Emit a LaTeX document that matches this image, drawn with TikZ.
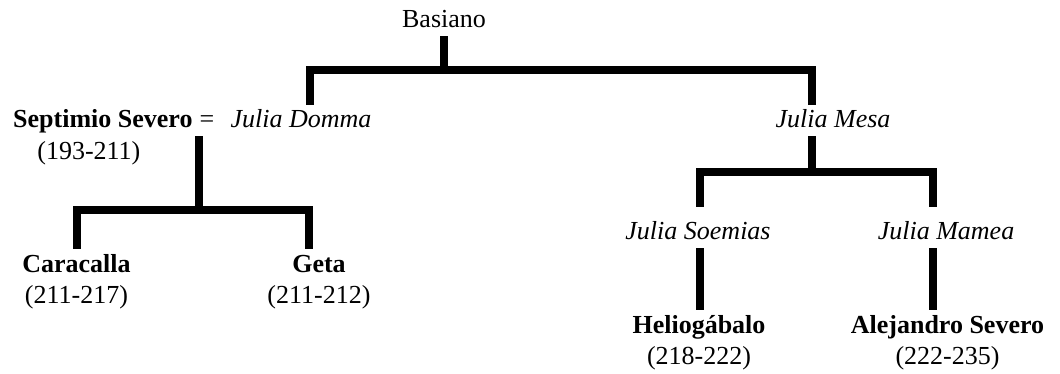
\documentclass[tikz,border=0pt]{standalone}
\usepackage{fontspec}
\setmainfont{Liberation Serif}
\usepackage{tikz}
\usetikzlibrary{positioning}
\tikzset{
branch/.style={line width=8pt}, % the thick family lines
person/.style={text height=20pt, text depth=5pt, inner sep=3pt}, % every name on a common baseline
emperor/.style={person, font=\bfseries}, % emperors in bold
lady/.style={person, font=\itshape}, % the Julias in italics
years/.style={person}, % years of reign
}
\begin{document}
\fontsize{26}{31}\selectfont
\begin{tikzpicture}[x=1pt, y=-1pt]
		\useasboundingbox (0,0) rectangle (1060,374);
		\node[person, anchor=base] (basiano) at (444,28) {Basiano};
		\node[emperor, anchor=base west] (severo) at (10,128) {Septimio Severo};
		\node[person, anchor=base] (eq) at (207,128) {=};
		\node[years, below=0pt of severo, xshift=-14pt] (severoyears) {(193-211)};
		\node[lady, anchor=base] (domma) at (301,128) {Julia Domma};
		\node[lady, anchor=base] (mesa) at (833,128) {Julia Mesa};
		\node[emperor, anchor=base] (caracalla) at (76.5,272) {Caracalla};
		\node[years, below=0pt of caracalla] (caracallayears) {(211-217)};
		\node[emperor, anchor=base] (geta) at (319,272) {Geta};
		\node[years, below=0pt of geta] (getayears) {(211-212)};
		\node[lady, anchor=base] (soemias) at (698,240) {Julia Soemias};
		\node[lady, anchor=base] (mamea) at (946,240) {Julia Mamea};
		\node[emperor, anchor=base] (heliogabalo) at (699,333) {Heliogábalo};
		\node[years, below=0pt of heliogabalo] (heliogabaloyears) {(218-222)};
		\node[emperor, anchor=base] (alejandro) at (947.5,333) {Alejandro Severo};
		\node[years, below=0pt of alejandro] (alejandroyears) {(222-235)};
		% Basiano's daughters
		\coordinate (left1) at (310,70);
		\coordinate (right1) at (812,70);
		\draw[branch] (basiano.south) -- (basiano.south |- left1);
		\draw[branch] (domma.north -| left1) |- (right1) -- (mesa.north -| right1);
		% sons of Septimio Severo
		\coordinate (mid2) at (199,210.5);
		\coordinate (left2) at (76.7,210.5);
		\coordinate (right2) at (309,210.5);
		\draw[branch] (eq.south -| mid2) -- (mid2);
		\draw[branch] (caracalla.north -| left2) |- (right2) -- (geta.north -| right2);
		% daughters of Julia Mesa
		\coordinate (mid3) at (812,172);
		\coordinate (left3) at (699.5,207);
		\coordinate (right3) at (933.3,207);
		\draw[branch] (mesa.south -| mid3) -- (mid3);
		\draw[branch] (left3) |- (mid3) -| (right3);
		\draw[branch] (soemias.south -| left3) -- (heliogabalo.north -| left3);
		\draw[branch] (mamea.south -| right3) -- (alejandro.north -| right3);
	\end{tikzpicture}
\end{document}
